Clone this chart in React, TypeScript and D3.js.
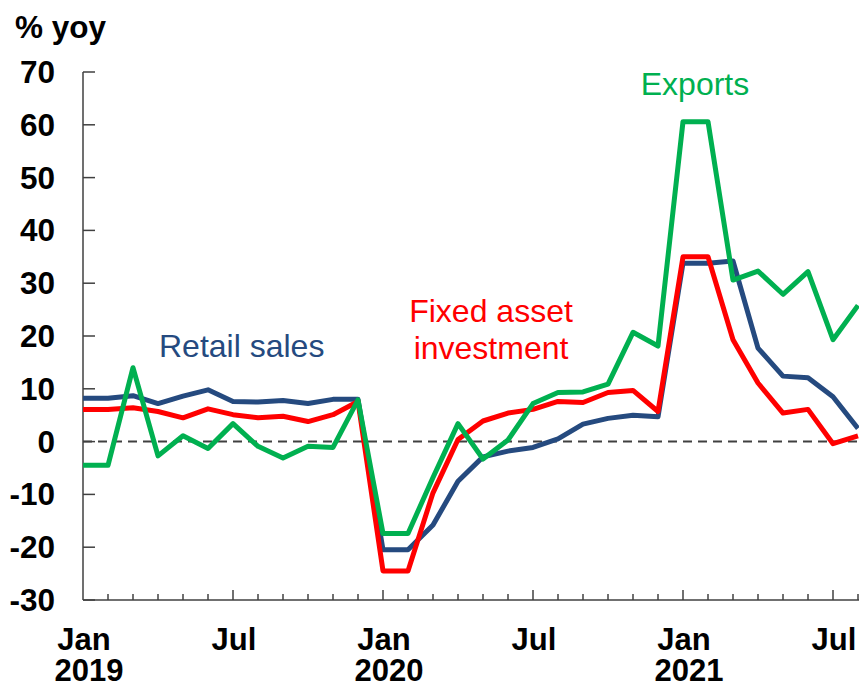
import React from 'react';
import * as d3 from 'd3';

// monthly, Jan 2019 .. Aug 2021 (Jan/Feb are reported together)
const months = [
  'Jan 2019', 'Feb 2019', 'Mar 2019', 'Apr 2019', 'May 2019', 'Jun 2019',
  'Jul 2019', 'Aug 2019', 'Sep 2019', 'Oct 2019', 'Nov 2019', 'Dec 2019',
  'Jan 2020', 'Feb 2020', 'Mar 2020', 'Apr 2020', 'May 2020', 'Jun 2020',
  'Jul 2020', 'Aug 2020', 'Sep 2020', 'Oct 2020', 'Nov 2020', 'Dec 2020',
  'Jan 2021', 'Feb 2021', 'Mar 2021', 'Apr 2021', 'May 2021', 'Jun 2021',
  'Jul 2021', 'Aug 2021',
];

const retailSales = [
  8.2, 8.2, 8.7, 7.2, 8.6, 9.8, 7.6, 7.5, 7.8, 7.2, 8.0, 8.0,
  -20.5, -20.5, -15.8, -7.5, -2.9, -1.8, -1.1, 0.5, 3.3, 4.4, 5.0, 4.7,
  33.8, 33.8, 34.2, 17.7, 12.4, 12.1, 8.5, 2.5,
];

const fixedAsset = [
  6.1, 6.1, 6.4, 5.7, 4.5, 6.2, 5.1, 4.5, 4.8, 3.8, 5.1, 7.6,
  -24.5, -24.5, -9.7, 0.4, 3.9, 5.4, 6.1, 7.6, 7.4, 9.3, 9.7, 5.7,
  35.0, 35.0, 19.3, 11.1, 5.4, 6.1, -0.4, 1.1,
];

const exports_ = [
  -4.5, -4.5, 14.0, -2.7, 1.1, -1.3, 3.4, -0.9, -3.1, -0.9, -1.1, 7.9,
  -17.4, -17.4, -6.8, 3.4, -3.3, 0.3, 7.2, 9.3, 9.4, 10.9, 20.7, 18.1,
  60.6, 60.6, 30.6, 32.3, 27.9, 32.2, 19.3, 25.8,
];

const yTicks = [-30, -20, -10, 0, 10, 20, 30, 40, 50, 60, 70];

// index into months, month label, year label
const xLabels = [
  { i: 0, m: 'Jan', y: '2019' },
  { i: 6, m: 'Jul', y: '' },
  { i: 12, m: 'Jan', y: '2020' },
  { i: 18, m: 'Jul', y: '' },
  { i: 24, m: 'Jan', y: '2021' },
  { i: 30, m: 'Jul', y: '' },
];

const BLUE = '#254a7f';
const RED = '#ff0000';
const GREEN = '#00b050';
const AXIS = '#404040';
const FONT = '"Liberation Sans", Arial, Helvetica, sans-serif';

export default function App() {
  const width = 859;
  const height = 685;
  const left = 83;
  const right = 858;
  const top = 72;
  const bottom = 600;

  const x = d3.scaleLinear().domain([0, months.length - 1]).range([left, right]);
  const y = d3.scaleLinear().domain([-30, 70]).range([bottom, top]);

  const line = d3.line<number>()
    .x((_, i) => x(i))
    .y(d => y(d));

  const series = [
    { values: retailSales, color: BLUE },
    { values: fixedAsset, color: RED },
    { values: exports_, color: GREEN },
  ];

  return (
    <svg
      width={width}
      height={height}
      style={{ position: 'absolute', left: 0, top: 0, background: '#fff' }}
      fontFamily={FONT}
    >
      <text x={15} y={38} fontSize={31.5} fontWeight="bold" fill="#000">% yoy</text>

      {/* y axis */}
      <line x1={left} x2={left} y1={top} y2={bottom} stroke={AXIS} strokeWidth={1.5} />
      {yTicks.map(t => (
        <g key={t}>
          <line x1={left} x2={left + 12} y1={y(t)} y2={y(t)} stroke={AXIS} strokeWidth={1.5} />
          <text x={55} y={y(t) + 11} textAnchor="end" fontSize={31.5} fontWeight="bold" fill="#000">
            {t}
          </text>
        </g>
      ))}

      {/* x axis */}
      <line x1={left} x2={width} y1={bottom} y2={bottom} stroke={AXIS} strokeWidth={1.5} />
      {months.map((m, i) => i === 0 ? null : (
        <line
          key={m}
          x1={x(i)} x2={x(i)}
          y1={bottom} y2={bottom - (i % 6 === 0 ? 10 : 6)}
          stroke={AXIS} strokeWidth={1.5}
        />
      ))}
      {xLabels.map(l => (
        <g key={l.i} fontSize={31} fontWeight="bold" fill="#000">
          <text x={x(l.i) + 1} y={650} textAnchor="middle">{l.m}</text>
          {l.y && <text x={x(l.i) + 6} y={681} textAnchor="middle">{l.y}</text>}
        </g>
      ))}

      {/* zero line */}
      <line
        x1={left} x2={width} y1={y(0)} y2={y(0)}
        stroke={AXIS} strokeWidth={2} strokeDasharray="9,6"
      />

      {series.map(s => (
        <path
          key={s.color}
          d={line(s.values) || ''}
          fill="none"
          stroke={s.color}
          strokeWidth={5}
          strokeLinejoin="round"
        />
      ))}

      <text x={159} y={357} fontSize={32} fill={BLUE}>Retail sales</text>
      <text x={491} y={322} fontSize={32} fill={RED} textAnchor="middle">Fixed asset</text>
      <text x={491} y={359} fontSize={32} fill={RED} textAnchor="middle">investment</text>
      <text x={695} y={95} fontSize={32} fill={GREEN} textAnchor="middle">Exports</text>
    </svg>
  );
}
